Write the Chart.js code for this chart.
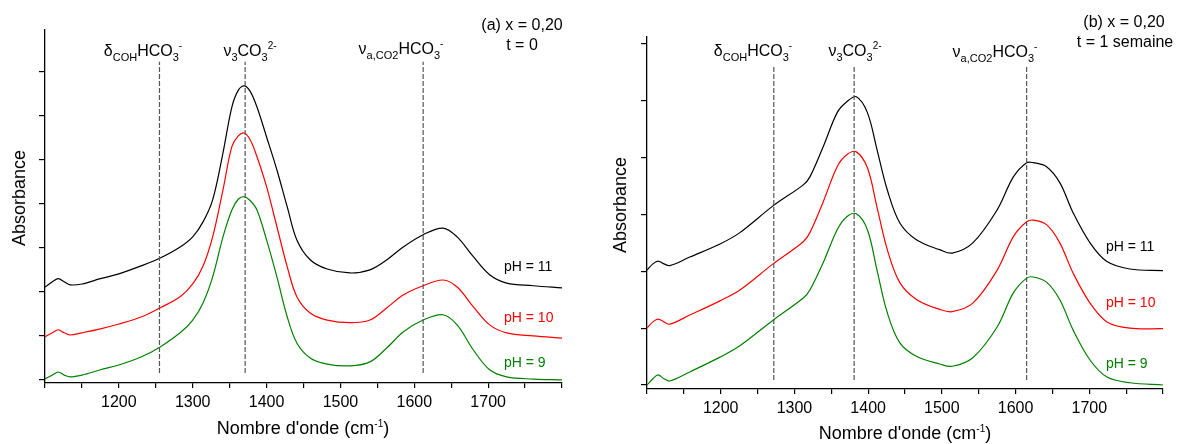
<!DOCTYPE html>
<html>
<head>
<meta charset="utf-8">
<script src="https://cdn.jsdelivr.net/npm/chart.js@4.4.1/dist/chart.umd.min.js"></script>
<style>
  body { margin: 0; background: #fff; font-family: "Liberation Sans", Arial, sans-serif; }
  #wrap { position: relative; width: 1178px; height: 444px; overflow: hidden; }
  .panel { position: absolute; top: 0; width: 589px; height: 444px; }
  .lbl { position: absolute; white-space: nowrap; transform: translate(-50%, -50%); line-height: 1; font-size: 16px; color: #000; }
  .left { transform: translate(0, -50%); font-size: 14px; }
  .sub { position: relative; top: 5px; font-size: 11px; }
  .sup { position: relative; top: -7px; font-size: 10px; }
  .rot { font-size: 18px; transform: translate(-50%, -50%) rotate(-90deg); }
  .xt { font-size: 18px; }
</style>
</head>
<body>
<div id="wrap">
  <div class="panel" style="left:0"><canvas id="chartA" width="589" height="444"></canvas></div>
  <div class="panel" style="left:589px"><canvas id="chartB" width="589" height="444"></canvas></div>

  <!-- panneau (a) -->
  <div class="lbl" style="left:522px;top:25px">(a) x = 0,20</div>
  <div class="lbl" style="left:522px;top:45px">t = 0</div>
  <div class="lbl" style="left:143px;top:51px">&delta;<span class="sub">COH</span>HCO<span class="sub">3</span><span class="sup">-</span></div>
  <div class="lbl" style="left:250px;top:51px">&nu;<span class="sub">3</span>CO<span class="sub">3</span><span class="sup">2-</span></div>
  <div class="lbl" style="left:401px;top:49px">&nu;<span class="sub">a,CO2</span>HCO<span class="sub">3</span><span class="sup">-</span></div>
  <div class="lbl left" style="left:504px;top:266px">pH = 11</div>
  <div class="lbl left" style="left:504px;top:317px;color:#ff0000">pH = 10</div>
  <div class="lbl left" style="left:504px;top:362px;color:#008000">pH = 9</div>
  <div class="lbl rot" style="left:19px;top:198px">Absorbance</div>
  <div class="lbl xt" style="left:303px;top:428px">Nombre d'onde (cm<span class="sup">-1</span>)</div>

  <!-- panneau (b) -->
  <div class="lbl" style="left:1124px;top:22px">(b) x = 0,20</div>
  <div class="lbl" style="left:1125px;top:42px">t = 1 semaine</div>
  <div class="lbl" style="left:753px;top:51px">&delta;<span class="sub">COH</span>HCO<span class="sub">3</span><span class="sup">-</span></div>
  <div class="lbl" style="left:855px;top:51px">&nu;<span class="sub">3</span>CO<span class="sub">3</span><span class="sup">2-</span></div>
  <div class="lbl" style="left:995px;top:52px">&nu;<span class="sub">a,CO2</span>HCO<span class="sub">3</span><span class="sup">-</span></div>
  <div class="lbl left" style="left:1106px;top:246px">pH = 11</div>
  <div class="lbl left" style="left:1106px;top:302px;color:#ff0000">pH = 10</div>
  <div class="lbl left" style="left:1106px;top:363px;color:#008000">pH = 9</div>
  <div class="lbl rot" style="left:620px;top:205px">Absorbance</div>
  <div class="lbl xt" style="left:905px;top:433px">Nombre d'onde (cm<span class="sup">-1</span>)</div>
</div>

<script>
// (a) t = 0
const wavenumbersA = [1100, 1110, 1118, 1126, 1134, 1150, 1175, 1200, 1230, 1256, 1283, 1300, 1314, 1327, 1341, 1353, 1362, 1370, 1378, 1387, 1400, 1414, 1428, 1441, 1459, 1482, 1513, 1540, 1563, 1585, 1612, 1639, 1658, 1680, 1702, 1725, 1761, 1800];
const pH11A = [2.11, 2.23, 2.30, 2.23, 2.16, 2.18, 2.30, 2.41, 2.59, 2.77, 3.02, 3.25, 3.59, 4.09, 5.16, 6.20, 6.59, 6.68, 6.55, 6.20, 5.52, 4.77, 3.93, 3.18, 2.73, 2.52, 2.43, 2.50, 2.73, 3.02, 3.30, 3.45, 3.25, 2.80, 2.39, 2.20, 2.14, 2.09];
const pH10A = [0.98, 1.07, 1.14, 1.07, 1.02, 1.07, 1.16, 1.27, 1.43, 1.64, 1.89, 2.18, 2.59, 3.25, 4.32, 5.30, 5.55, 5.61, 5.45, 5.07, 4.39, 3.48, 2.57, 1.89, 1.52, 1.36, 1.30, 1.36, 1.64, 1.93, 2.14, 2.27, 2.11, 1.66, 1.25, 1.07, 1.00, 0.95];
const pH9A = [0.02, 0.11, 0.18, 0.11, 0.07, 0.11, 0.23, 0.34, 0.52, 0.75, 1.07, 1.36, 1.75, 2.34, 3.25, 3.86, 4.11, 4.16, 4.07, 3.86, 3.18, 2.34, 1.43, 0.84, 0.50, 0.36, 0.32, 0.41, 0.73, 1.09, 1.36, 1.48, 1.25, 0.68, 0.23, 0.07, 0.02, 0.00];
const bandsA = [1255, 1371, 1612];

// (b) t = 1 semaine
const wavenumbersB = [1100, 1108, 1115, 1123, 1131, 1158, 1199, 1226, 1271, 1312, 1321, 1339, 1358, 1371, 1384, 1399, 1412, 1426, 1443, 1466, 1497, 1514, 1542, 1575, 1597, 1615, 1624, 1642, 1660, 1678, 1701, 1724, 1755, 1800];
const pH11B = [2.02, 2.13, 2.18, 2.13, 2.10, 2.25, 2.48, 2.68, 3.15, 3.52, 3.66, 4.19, 4.79, 4.98, 5.07, 4.79, 4.14, 3.43, 2.85, 2.55, 2.38, 2.32, 2.50, 3.08, 3.66, 3.91, 3.91, 3.84, 3.56, 3.03, 2.50, 2.17, 2.04, 2.01];
const pH10B = [1.00, 1.11, 1.16, 1.11, 1.07, 1.23, 1.48, 1.67, 2.13, 2.52, 2.68, 3.22, 3.84, 4.05, 4.10, 3.82, 3.13, 2.38, 1.80, 1.50, 1.33, 1.29, 1.44, 2.02, 2.61, 2.87, 2.90, 2.82, 2.50, 1.97, 1.44, 1.11, 1.00, 0.99];
const pH9B = [0.00, 0.11, 0.18, 0.11, 0.07, 0.23, 0.49, 0.69, 1.14, 1.53, 1.67, 2.15, 2.73, 2.96, 3.01, 2.73, 2.02, 1.27, 0.74, 0.50, 0.37, 0.33, 0.48, 1.02, 1.62, 1.88, 1.90, 1.81, 1.50, 0.97, 0.44, 0.14, 0.04, 0.00];
const bandsB = [1272, 1381, 1615];

// graduations
const xTicks = [1100, 1150, 1200, 1250, 1300, 1350, 1400, 1450, 1500, 1550, 1600, 1650, 1700, 1750, 1800];
const xTickLabels = [1200, 1300, 1400, 1500, 1600, 1700];
const yTicksA = [0, 1, 2, 3, 4, 5, 6, 7];
const yTicksB = [0, 1, 2, 3, 4, 5, 6];

Chart.defaults.font.family = "'Liberation Sans', Arial, sans-serif";
Chart.defaults.color = "#000";

function toPoints(xs, ys) {
  return xs.map((x, i) => ({ x: x, y: ys[i] }));
}

// traits verticaux en pointillés pour les bandes
function bandDatasets(bands, lo, hi) {
  return bands.map((b) => ({
    data: [{ x: b, y: lo }, { x: b, y: hi }],
    borderColor: "#555",
    borderWidth: 1.2,
    borderDash: [5, 2],
    pointRadius: 0,
    tension: 0,
  }));
}

function curve(xs, ys, color) {
  return {
    data: toPoints(xs, ys),
    borderColor: color,
    borderWidth: 1.2,
    pointRadius: 0,
    tension: 0.35,
  };
}

function makeChart(id, cfg) {
  return new Chart(document.getElementById(id), {
    type: "line",
    data: {
      datasets: [
        ...bandDatasets(cfg.bands, cfg.bandLo, cfg.bandHi),
        curve(cfg.xs, cfg.s11, "#000000"),
        curve(cfg.xs, cfg.s10, "#ff0000"),
        curve(cfg.xs, cfg.s9, "#008000"),
      ],
    },
    options: {
      responsive: false,
      animation: false,
      layout: { padding: cfg.padding },
      plugins: { legend: { display: false }, tooltip: { enabled: false } },
      scales: {
        x: {
          type: "linear",
          min: 1100,
          max: 1800,
          afterBuildTicks: (s) => { s.ticks = xTicks.map((v) => ({ value: v })); },
          afterFit: (s) => { s.height = cfg.xHeight; },
          border: { display: true, color: "#000", width: 1.3 },
          grid: { drawOnChartArea: false, color: "#000", lineWidth: 1.2, tickLength: 5 },
          ticks: {
            padding: 5,
            font: { size: 16 },
            color: "#000",
            maxRotation: 0,
            autoSkip: false,
            callback: (v) => (xTickLabels.includes(v) ? String(v) : ""),
          },
        },
        y: {
          type: "linear",
          min: cfg.yMin,
          max: cfg.yMax,
          afterBuildTicks: (s) => { s.ticks = cfg.yTicks.map((v) => ({ value: v })); },
          afterFit: (s) => { s.width = 0; },
          border: { display: true, color: "#000", width: 1.3 },
          grid: { drawOnChartArea: false, color: "#000", lineWidth: 1.2, tickLength: 6 },
          ticks: { display: false },
        },
      },
    },
  });
}

makeChart("chartA", {
  xs: wavenumbersA, s11: pH11A, s10: pH10A, s9: pH9A,
  bands: bandsA, bandLo: 0.16, bandHi: 7.23,
  yTicks: yTicksA, yMin: -0.07, yMax: 7.95,
  padding: { left: 45, right: 27, top: 30, bottom: 0 },
  xHeight: 61,
});

makeChart("chartB", {
  xs: wavenumbersB, s11: pH11B, s10: pH10B, s9: pH9B,
  bands: bandsB, bandLo: 0.09, bandHi: 5.6,
  yTicks: yTicksB, yMin: -0.07, yMax: 6.12,
  padding: { left: 58, right: 15, top: 37, bottom: 0 },
  xHeight: 55,
});
</script>
</body>
</html>
